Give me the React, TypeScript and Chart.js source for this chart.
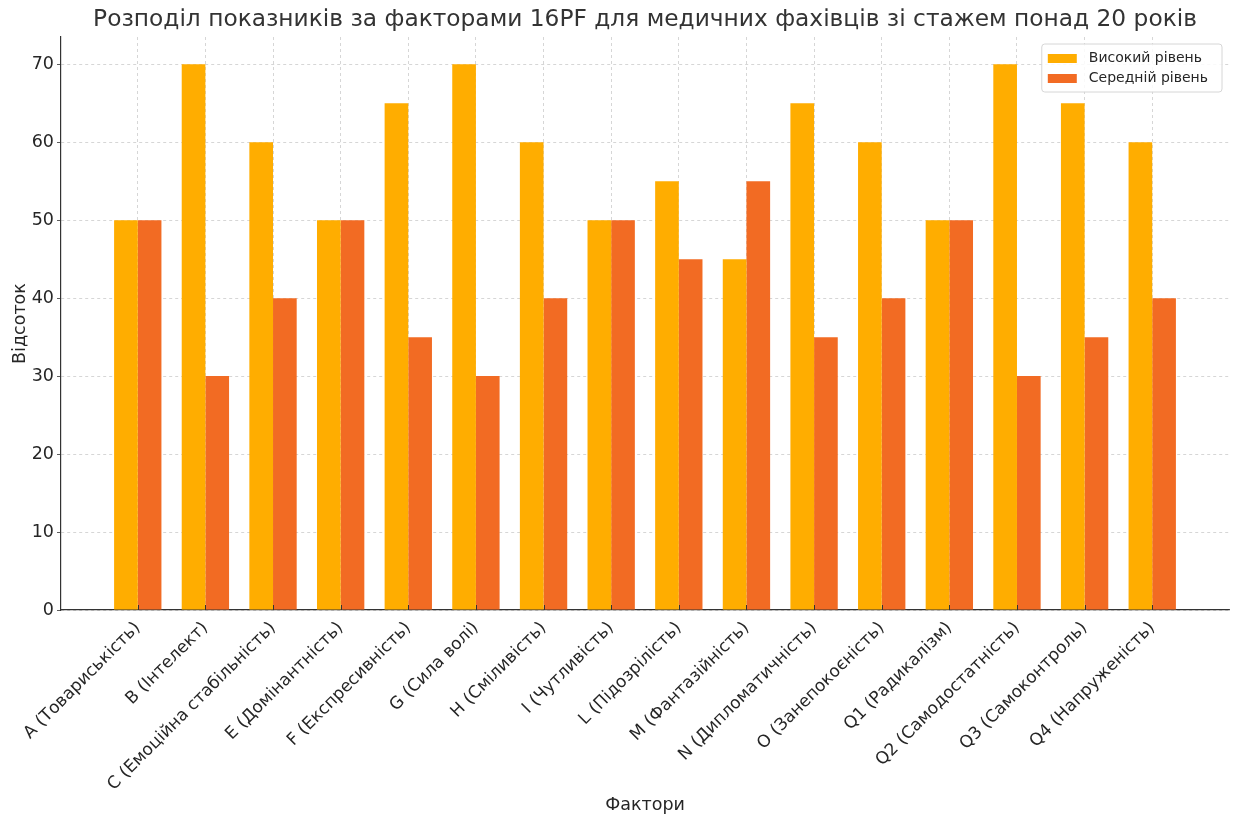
import React, { useEffect, useRef } from "react";
import { Chart, registerables } from "chart.js";

Chart.register(...registerables);

const TITLE =
  "Розподіл показників за факторами 16PF для медичних фахівців зі стажем понад 20 років";

const factors = [
  "A (Товариськість)",
  "B (Інтелект)",
  "C (Емоційна стабільність)",
  "E (Домінантність)",
  "F (Експресивність)",
  "G (Сила волі)",
  "H (Сміливість)",
  "I (Чутливість)",
  "L (Підозрілість)",
  "M (Фантазійність)",
  "N (Дипломатичність)",
  "O (Занепокоєність)",
  "Q1 (Радикалізм)",
  "Q2 (Самодостатність)",
  "Q3 (Самоконтроль)",
  "Q4 (Напруженість)",
];

const highLevel = [50, 70, 60, 50, 65, 70, 60, 50, 55, 45, 65, 60, 50, 70, 65, 60];
const mediumLevel = [50, 30, 40, 50, 35, 30, 40, 50, 45, 55, 35, 40, 50, 30, 35, 40];

const seriesLabels = ["Високий рівень", "Середній рівень"];
const yTicks = [0, 10, 20, 30, 40, 50, 60, 70];

const FONT = '"DejaVu Sans", sans-serif';
const TEXT = "#262626";

// bar group spans 0.7 of a category; axis gets a 5% margin on each side
const GROUP = 0.7;
const span = factors.length - 1 + GROUP;
const xMin = -GROUP / 2 - 0.05 * span;
const xMax = factors.length - 1 + GROUP / 2 + 0.05 * span;
const yMax = Math.max(...highLevel, ...mediumLevel) * 1.05;

const titlePlugin = {
  id: "centeredTitle",
  afterDraw(chart: any) {
    const { ctx, chartArea } = chart;
    ctx.save();
    ctx.font = `23.3px ${FONT}`;
    ctx.fillStyle = "#333333";
    ctx.textAlign = "center";
    ctx.textBaseline = "middle";
    ctx.fillText(TITLE, (chartArea.left + chartArea.right) / 2, 20);
    ctx.restore();
  },
};

const innerTicksPlugin = {
  id: "innerTicks",
  afterDatasetsDraw(chart: any) {
    const { ctx, chartArea } = chart;
    const xs = chart.scales.x;
    ctx.save();
    ctx.strokeStyle = "#333333";
    ctx.lineWidth = 1;
    xs.ticks.forEach((t: any) => {
      const px = Math.round(xs.getPixelForValue(t.value)) + 0.5;
      ctx.beginPath();
      ctx.moveTo(px, chartArea.bottom);
      ctx.lineTo(px, chartArea.bottom - 5);
      ctx.stroke();
    });
    ctx.restore();
  },
};

const legendPlugin = {
  id: "cornerLegend",
  afterDraw(chart: any) {
    const { ctx, chartArea } = chart;
    const sets = chart.data.datasets;
    ctx.save();
    ctx.font = `14px ${FONT}`;
    const textW = Math.max(...sets.map((d: any) => ctx.measureText(d.label).width));
    const padL = 6;
    const padR = 14;
    const swW = 29;
    const swH = 9;
    const gap = 12;
    const rowH = 20;
    const w = padL + swW + gap + textW + padR;
    const h = sets.length * rowH + 8;
    const x = chartArea.right - 7 - w;
    const y = chartArea.top + 7;
    ctx.beginPath();
    ctx.roundRect(x, y, w, h, 3);
    ctx.fillStyle = "rgba(255,255,255,0.85)";
    ctx.fill();
    ctx.strokeStyle = "#d6d6d6";
    ctx.lineWidth = 1;
    ctx.stroke();
    sets.forEach((d: any, i: number) => {
      const cy = y + 4 + rowH * i + rowH / 2 + 0.5;
      ctx.fillStyle = d.backgroundColor;
      ctx.fillRect(x + padL, cy - swH / 2, swW, swH);
      ctx.fillStyle = TEXT;
      ctx.textAlign = "left";
      ctx.textBaseline = "middle";
      ctx.fillText(d.label, x + padL + swW + gap, cy);
    });
    ctx.restore();
  },
};

export default function App() {
  const ref = useRef<HTMLCanvasElement | null>(null);

  useEffect(() => {
    const canvas = ref.current;
    if (!canvas) return;
    const chart = new Chart(canvas, {
      type: "bar",
      data: {
        datasets: [
          {
            label: seriesLabels[0],
            data: highLevel.map((v, i) => ({ x: i, y: v })),
            backgroundColor: "#FFAD00",
          },
          {
            label: seriesLabels[1],
            data: mediumLevel.map((v, i) => ({ x: i, y: v })),
            backgroundColor: "#F26B23",
          },
        ],
      },
      options: {
        responsive: false,
        animation: false,
        events: [],
        datasets: {
          bar: { categoryPercentage: GROUP, barPercentage: 1, borderWidth: 0 },
        },
        layout: { padding: { left: 0, right: 6, top: 37, bottom: 0 } },
        plugins: {
          legend: { display: false },
          title: { display: false },
          tooltip: { enabled: false },
        },
        scales: {
          x: {
            type: "linear",
            min: xMin,
            max: xMax,
            offset: false,
            afterBuildTicks: (scale: any) => {
              scale.ticks = factors.map((_, i) => ({ value: i }));
            },
            afterFit: (scale: any) => {
              scale.height = 207;
            },
            ticks: {
              stepSize: 1,
              autoSkip: false,
              maxRotation: 45,
              minRotation: 45,
              padding: 8,
              color: TEXT,
              font: { family: FONT, size: 17 },
              callback: (v: any) => factors[v as number],
            },
            grid: {
              offset: false,
              color: "#cccccc",
              lineWidth: 0.8,
              drawTicks: false,
            },
            border: { color: "#333333", width: 1.2, dash: [3, 3] },
            title: {
              display: true,
              text: "Фактори",
              color: TEXT,
              font: { family: FONT, size: 17.5 },
              padding: { top: 0, bottom: 1 },
            },
          },
          y: {
            min: 0,
            max: yMax,
            afterBuildTicks: (scale: any) => {
              scale.ticks = yTicks.map((v) => ({ value: v }));
            },
            afterFit: (scale: any) => {
              scale.width = 61;
            },
            ticks: {
              stepSize: 10,
              padding: 3,
              color: TEXT,
              font: { family: FONT, size: 17.5 },
            },
            grid: {
              color: "#cccccc",
              lineWidth: 0.8,
              tickColor: "#333333",
              tickLength: 4,
            },
            border: { color: "#333333", width: 1.2, dash: [3, 3] },
            title: {
              display: true,
              text: "Відсоток",
              color: TEXT,
              font: { family: FONT, size: 17.5 },
              padding: { top: 10, bottom: 0 },
            },
          },
        },
      },
      plugins: [titlePlugin, innerTicksPlugin, legendPlugin],
    });
    return () => chart.destroy();
  }, []);

  return (
    <div style={{ position: "absolute", left: 0, top: 0, width: 1235, height: 817, background: "#fff" }}>
      <canvas ref={ref} width={1235} height={817} style={{ display: "block" }} />
    </div>
  );
}
